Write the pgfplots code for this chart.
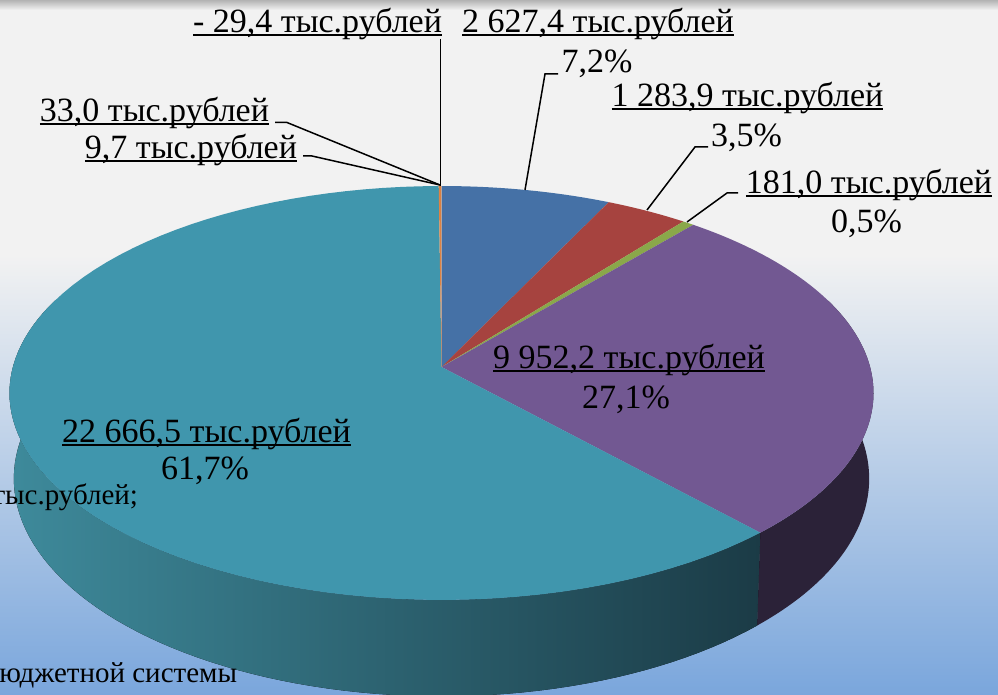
\documentclass[border=0pt]{standalone}
\usepackage{fontspec}
\setmainfont{Liberation Serif}
\usepackage{pgfplots}
\usepackage{pgfplotstable}
\pgfplotsset{compat=1.18}

\definecolor{bgtop}{HTML}{F2F2F2}
\definecolor{bgbot}{HTML}{7AA6DC}
\definecolor{cblue}{HTML}{4571A6}
\definecolor{cred}{HTML}{A6433F}
\definecolor{cgreen}{HTML}{8AA84A}
\definecolor{cpurple}{HTML}{725892}
\definecolor{cteal}{HTML}{4096AD}
\definecolor{corange}{HTML}{DE8344}
\definecolor{cside1}{HTML}{2B2238}
\definecolor{csideL}{HTML}{3E8A9B}
\definecolor{csideR}{HTML}{1B3B46}

\newsavebox\ulbox
\newcommand\ul[1]{\sbox\ulbox{#1}\rlap{\rule[-1.5pt]{\wd\ulbox}{1pt}}\usebox\ulbox}

% values, thousand roubles (slices clockwise from the top)
\pgfplotstableread{
name value
a 2627.4
b 1283.9
c 181.0
d 9952.2
e 22666.5
f 33.0
g 9.7
}\piedata

\def\pietot{0}
\pgfplotstableforeachcolumnelement{value}\of\piedata\as\v{\xdef\pietot{\fpeval{\pietot+\v}}}
\def\piecum{0}
\expandafter\def\csname pieang0\endcsname{0}
\pgfplotstableforeachcolumnelement{value}\of\piedata\as\v{%
  \xdef\piecum{\fpeval{round(\piecum+360*\v/\pietot,4)}}%
  \expandafter\xdef\csname pieang\the\numexpr\pgfplotstablerow+1\relax\endcsname{\piecum}}
\newcommand\PA[1]{\csname pieang#1\endcsname}

\newcommand\topslice[3]{\fill[#3] (axis cs:441.5,367) -- plot[domain=#1:#2,samples=80,variable=\t] ({tx(\t)},{ty(\t)}) -- cycle;}
\newcommand\sideslice[3]{\fill[#3] plot[domain=#1:#2,samples=80,variable=\t] ({tx(\t)},{ty(\t)}) -- plot[domain=#1:#2,samples=80,variable=\t] ({bx(#1+#2-\t)},{by(#1+#2-\t)}) -- cycle;}

\begin{document}
\begin{tikzpicture}[
  lab/.style={font=\fontsize{17}{20}\selectfont, inner sep=0pt, outer sep=0pt},
  labs/.style={font=\fontsize{14.5}{17}\selectfont, inner sep=0pt, outer sep=0pt},
  declare function={
    pw(\t)=1+0.1256*cos(\t);
    tx(\t)=441.5+428.6*sin(\t)/pw(\t);
    ty(\t)=367-203.7*cos(\t)/pw(\t);
    bx(\t)=441.5+424.3*sin(\t)/pw(\t);
    by(\t)=367-203.7*cos(\t)/pw(\t)+84.3/pw(\t);
  }]
\useasboundingbox (0,0) rectangle (499pt,347.5pt);
\clip (0,0) rectangle (499pt,347.5pt);
\begin{axis}[
  at={(0,0)}, anchor=south west,
  scale only axis, width=499pt, height=347.5pt,
  xmin=0, xmax=998, ymin=0, ymax=695, y dir=reverse,
  hide axis, clip=false,
]
% background
\fill[bgtop] (axis cs:0,0) rectangle (axis cs:998,695);
\fill[top color=gray!60, bottom color=bgtop] (axis cs:0,0) rectangle (axis cs:998,10);
\fill[top color=bgtop, bottom color=bgbot] (axis cs:0,255) rectangle (axis cs:998,695);
% sides
\sideslice{70}{\PA{4}}{cside1}
\sideslice{\PA{4}}{290}{left color=csideL, right color=csideR}
% tops
\topslice{\PA{0}}{\PA{1}}{cblue}
\topslice{\PA{1}}{\PA{2}}{cred}
\topslice{\PA{2}}{\PA{3}}{cgreen}
\topslice{\PA{3}}{\PA{4}}{cpurple}
\topslice{\PA{4}}{\PA{5}}{cteal}
\topslice{\PA{5}}{\PA{6}}{corange}
\topslice{\PA{6}}{\PA{7}}{corange!85!black}
% leader lines
\draw[line width=0.75pt] (axis cs:440.5,39) -- (axis cs:440.5,186);
\draw[line width=0.75pt] (axis cs:558,74) -- (axis cs:545,74) -- (axis cs:525,190);
\draw[line width=0.75pt] (axis cs:708,147) -- (axis cs:695,147) -- (axis cs:647,210);
\draw[line width=0.75pt] (axis cs:738,193) -- (axis cs:727,193) -- (axis cs:687,222);
\draw[line width=0.75pt] (axis cs:275,122.5) -- (axis cs:287,122.5) -- (axis cs:440,185);
\draw[line width=0.75pt] (axis cs:303,156) -- (axis cs:312,156) -- (axis cs:440,185);
% labels
\node[lab, anchor=base east] at (axis cs:442,33) {\ul{- 29,4 тыс.рублей}};
\node[lab, anchor=base] at (axis cs:598,33) {\ul{2 627,4 тыс.рублей}};
\node[lab, anchor=base] at (axis cs:597,73) {7,2\%};
\node[lab, anchor=base] at (axis cs:747.5,107) {\ul{1 283,9 тыс.рублей}};
\node[lab, anchor=base] at (axis cs:746.5,147) {3,5\%};
\node[lab, anchor=base] at (axis cs:869,194) {\ul{181,0 тыс.рублей}};
\node[lab, anchor=base] at (axis cs:866.5,233) {0,5\%};
\node[lab, anchor=base east] at (axis cs:269,122) {\ul{33,0 тыс.рублей}};
\node[lab, anchor=base east] at (axis cs:297,159) {\ul{9,7 тыс.рублей}};
\node[lab, anchor=base] at (axis cs:629,369) {\ul{9 952,2 тыс.рублей}};
\node[lab, anchor=base] at (axis cs:626,409) {27,1\%};
\node[lab, anchor=base] at (axis cs:206.5,443) {\ul{22 666,5 тыс.рублей}};
\node[lab, anchor=base] at (axis cs:205,480) {61,7\%};
\node[labs, anchor=base east] at (axis cs:138,505) {тыс.рублей;};
\node[labs, anchor=base east] at (axis cs:237,683) {бюджетной системы};
\end{axis}
\end{tikzpicture}
\end{document}
